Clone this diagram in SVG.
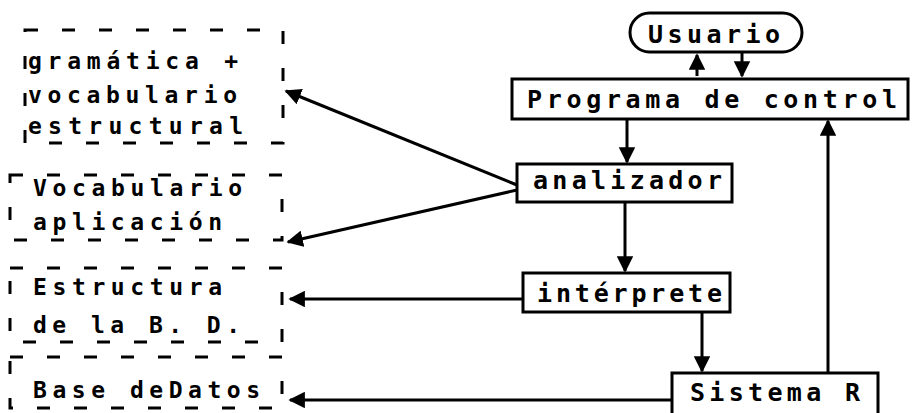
<svg xmlns="http://www.w3.org/2000/svg" width="912" height="413" viewBox="0 0 912 413">
<style>
.box{fill:#fff;stroke:#000;stroke-width:3}
.dash{fill:none;stroke:#000;stroke-width:3;stroke-dasharray:13 24}
.t{font-family:"DejaVu Sans Mono","Liberation Mono",monospace;font-size:25px;font-weight:bold;fill:#000}
.l{font-size:23px}
.c{stroke:#000;stroke-width:3;fill:none}
</style>
<defs>
<marker id="ah" viewBox="0 0 10 10" refX="9" refY="5" markerWidth="5.5" markerHeight="5.5" orient="auto" markerUnits="strokeWidth">
<path d="M0,0 L10,5 L0,10 Z" fill="#000"/>
</marker>
</defs>
<rect width="912" height="413" fill="#fff"/>

<g id="connectors">
<line class="c" x1="697" y1="76" x2="697" y2="55" marker-end="url(#ah)"/>
<line class="c" x1="742" y1="53" x2="742" y2="76" marker-end="url(#ah)"/>
<line class="c" x1="627" y1="119" x2="627" y2="162" marker-end="url(#ah)"/>
<line class="c" x1="625" y1="203" x2="625" y2="271" marker-end="url(#ah)"/>
<line class="c" x1="702" y1="313" x2="702" y2="371" marker-end="url(#ah)"/>
<line class="c" x1="828" y1="372" x2="828" y2="121" marker-end="url(#ah)"/>
<line class="c" x1="517" y1="185" x2="286" y2="91" marker-end="url(#ah)"/>
<line class="c" x1="517" y1="190" x2="288" y2="242" marker-end="url(#ah)"/>
<line class="c" x1="523" y1="299" x2="290" y2="299" marker-end="url(#ah)"/>
<line class="c" x1="672" y1="400" x2="290" y2="400" marker-end="url(#ah)"/>
</g>

<g id="usuario">
<rect class="box" x="630" y="13" width="172" height="39" rx="19.5"/>
<text class="t" x="648" y="43" textLength="132" lengthAdjust="spacing">Usuario</text>
</g>
<g id="programa">
<rect class="box" x="512" y="79" width="396" height="40"/>
<text class="t" x="527" y="108" textLength="370" lengthAdjust="spacing">Programa de control</text>
</g>
<g id="analizador">
<rect class="box" x="517" y="164" width="215" height="38"/>
<text class="t" x="533" y="189" textLength="189" lengthAdjust="spacing">analizador</text>
</g>
<g id="interprete">
<rect class="box" x="523" y="273" width="207" height="39"/>
<text class="t" x="537" y="302" textLength="185" lengthAdjust="spacing">intérprete</text>
</g>
<g id="sistemaR">
<rect class="box" x="672" y="373" width="206" height="44"/>
<text class="t" x="690" y="401" textLength="170" lengthAdjust="spacing">Sistema R</text>
</g>

<g id="gramatica">
<rect class="dash" x="25" y="30" width="258" height="113"/>
<text class="t l" x="28" y="69" textLength="210" lengthAdjust="spacing">gramática +</text>
<text class="t l" x="28" y="103" textLength="209" lengthAdjust="spacing">vocabulario</text>
<text class="t l" x="28" y="134" textLength="215" lengthAdjust="spacing">estructural</text>
</g>
<g id="vocabulario">
<rect class="dash" x="10" y="175" width="272" height="65"/>
<text class="t l" x="33" y="196" textLength="209" lengthAdjust="spacing">Vocabulario</text>
<text class="t l" x="33" y="230" textLength="189" lengthAdjust="spacing">aplicación</text>
</g>
<g id="estructura">
<rect class="dash" x="10" y="268" width="272" height="74"/>
<text class="t l" x="33" y="295" textLength="189" lengthAdjust="spacing">Estructura</text>
<text class="t l" x="33" y="333" textLength="207" lengthAdjust="spacing">de la B. D.</text>
</g>
<g id="basedatos">
<rect class="dash" x="10" y="357" width="272" height="51"/>
<text class="t l" x="33" y="398" textLength="227" lengthAdjust="spacing">Base deDatos</text>
</g>
</svg>
